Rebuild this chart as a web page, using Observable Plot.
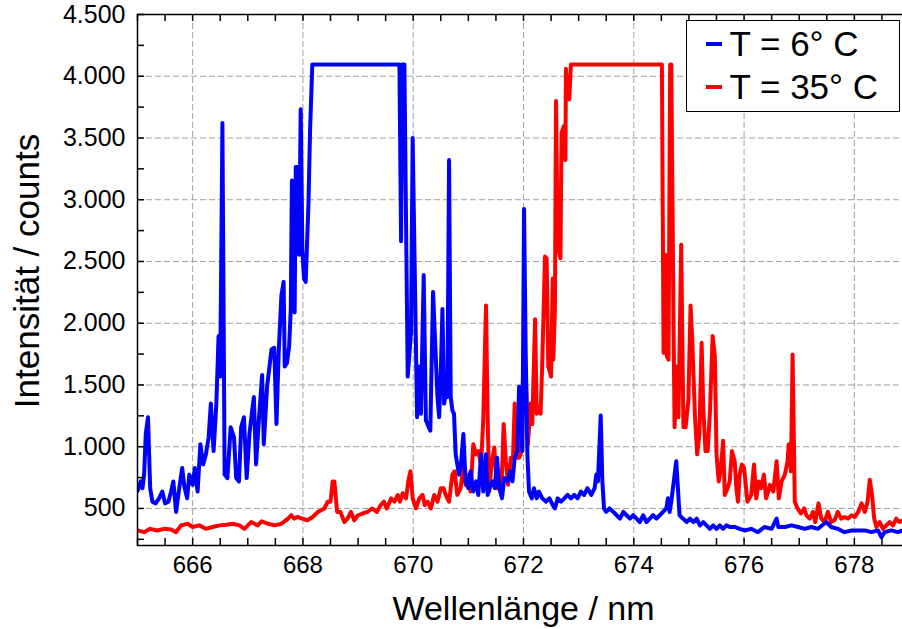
<!DOCTYPE html>
<html>
<head>
<meta charset="utf-8">
<script src="https://cdn.jsdelivr.net/npm/d3@7"></script>
<script src="https://cdn.jsdelivr.net/npm/@observablehq/plot@0.6"></script>
<style>
  html, body { margin: 0; padding: 0; background: #fff; overflow: hidden; }
  #wrap { position: relative; width: 902px; height: 629px; }
  .legend {
    position: absolute; left: 686px; top: 20px; width: 212px; height: 90px;
    border: 1.5px solid #000; background: #fff;
    font-family: "Liberation Sans", Arial, sans-serif; font-size: 35px; color: #000;
  }
  .legend .sw { position: absolute; left: 18.5px; width: 16px; height: 4px; }
  .legend .lbl { position: absolute; left: 42.5px; line-height: 40px; white-space: pre; }
</style>
</head>
<body>
<div id="wrap"></div>
<script>
// Emission spectra of the same diode at two temperatures (12-bit detector, saturates at 4095)
const seriesNames = ["T = 6° C", "T = 35° C"];
const seriesColors = ["#0000ff", "#ff0000"];

const blueNm = [
  665.00, 665.06, 665.09, 665.12, 665.15, 665.19, 665.23, 665.27, 665.33, 665.39,
  665.45, 665.50, 665.56, 665.61, 665.65, 665.70, 665.74, 665.81, 665.85, 665.90,
  665.94, 666.00, 666.04, 666.09, 666.14, 666.19, 666.24, 666.29, 666.33, 666.38,
  666.43, 666.47, 666.50, 666.54, 666.58, 666.63, 666.69, 666.75, 666.79, 666.84,
  666.88, 666.93, 666.98, 667.03, 667.08, 667.11, 667.15, 667.20, 667.26, 667.29,
  667.35, 667.43, 667.48, 667.52, 667.56, 667.61, 667.65, 667.67, 667.71, 667.75,
  667.78, 667.80, 667.83, 667.85, 667.87, 667.90, 667.93, 667.96, 667.99, 668.02,
  668.05, 668.10, 668.13, 668.17, 669.75, 669.78, 669.80, 669.84, 669.90, 669.96,
  669.99, 670.07, 670.11, 670.14, 670.19, 670.23, 670.31, 670.36, 670.44, 670.47,
  670.50, 670.53, 670.56, 670.59, 670.62, 670.65, 670.68, 670.71, 670.74, 670.77,
  670.80, 670.83, 670.86, 670.91, 670.95, 671.00, 671.04, 671.09, 671.14, 671.18,
  671.23, 671.27, 671.32, 671.35, 671.40, 671.44, 671.48, 671.52, 671.56, 671.61,
  671.65, 671.71, 671.76, 671.80, 671.84, 671.89, 671.92, 671.95, 671.98, 672.01,
  672.04, 672.07, 672.10, 672.15, 672.19, 672.24, 672.28, 672.34, 672.41, 672.47,
  672.53, 672.57, 672.62, 672.68, 672.74, 672.80, 672.86, 672.92, 672.98, 673.04,
  673.10, 673.16, 673.23, 673.29, 673.32, 673.35, 673.40, 673.43, 673.46, 673.50,
  673.56, 673.63, 673.69, 673.75, 673.81, 673.87, 673.93, 673.99, 674.05, 674.11,
  674.17, 674.23, 674.29, 674.35, 674.41, 674.47, 674.53, 674.59, 674.62, 674.65,
  674.68, 674.71, 674.74, 674.77, 674.80, 674.83, 674.89, 674.96, 675.02, 675.08,
  675.14, 675.20, 675.26, 675.32, 675.38, 675.44, 675.50, 675.56, 675.62, 675.68,
  675.74, 675.83, 675.92, 676.01, 676.13, 676.25, 676.37, 676.50, 676.59, 676.62,
  676.74, 676.86, 676.98, 677.10, 677.22, 677.34, 677.49, 677.58, 677.70, 677.82,
  677.95, 678.07, 678.19, 678.31, 678.43, 678.49, 678.55, 678.67, 678.79, 678.88,
  679.00
];
const blueCounts = [
  640, 719, 664, 774, 1102, 1239, 664, 555, 541, 582,
  637, 541, 555, 637, 719, 472, 609, 828, 678, 582,
  774, 691, 828, 637, 1020, 856, 938, 1075, 1349, 965,
  1349, 1896, 1568, 3622, 774, 746, 1157, 1075, 746, 719,
  1157, 1239, 746, 1102, 1294, 1403, 856, 1212, 1581, 1020,
  1486, 1787, 1801, 1184, 1760, 2225, 2335, 1650, 1677, 1814,
  2116, 3156, 2116, 2088, 3266, 3266, 2554, 3732, 2581, 2362,
  2335, 2965, 3567, 4095, 4095, 2663, 4095, 4095, 1568, 1924,
  3500, 1239, 1650, 1267, 2390, 1212, 1130, 2253, 1400, 1239,
  1595, 2116, 1349, 1431, 1403, 3321, 1403, 1294, 1267, 938,
  856, 774, 828, 1102, 719, 664, 801, 637, 719, 609,
  938, 637, 938, 609, 691, 719, 664, 911, 664, 582,
  746, 719, 801, 719, 911, 965, 1486, 1349, 965, 2924,
  1760, 938, 637, 582, 664, 582, 637, 582, 555, 582,
  527, 500, 582, 555, 582, 609, 582, 609, 582, 637,
  609, 664, 609, 664, 774, 719, 1253, 719, 500, 472,
  500, 472, 445, 418, 472, 445, 418, 445, 418, 390,
  445, 390, 418, 445, 418, 445, 472, 500, 582, 472,
  555, 664, 774, 883, 664, 445, 418, 390, 418, 390,
  418, 363, 390, 363, 335, 363, 335, 363, 335, 363,
  350, 350, 335, 322, 335, 308, 350, 335, 418, 350,
  350, 363, 350, 335, 350, 335, 390, 350, 335, 308,
  322, 322, 322, 308, 322, 267, 308, 322, 308, 322,
  315
];

const redNm = [
  665.00, 665.12, 665.23, 665.36, 665.48, 665.61, 665.70, 665.79, 665.91, 666.00,
  666.12, 666.24, 666.36, 666.49, 666.61, 666.73, 666.85, 666.94, 667.06, 667.18,
  667.25, 667.37, 667.49, 667.61, 667.73, 667.79, 667.84, 667.90, 667.99, 668.08,
  668.18, 668.27, 668.33, 668.39, 668.45, 668.50, 668.54, 668.57, 668.62, 668.68,
  668.75, 668.81, 668.87, 668.93, 669.00, 669.08, 669.17, 669.26, 669.34, 669.41,
  669.47, 669.52, 669.60, 669.66, 669.72, 669.76, 669.81, 669.87, 669.91, 669.95,
  669.99, 670.05, 670.11, 670.17, 670.21, 670.26, 670.32, 670.38, 670.44, 670.50,
  670.55, 670.59, 670.65, 670.71, 670.75, 670.80, 670.86, 670.91, 670.95, 671.01,
  671.04, 671.09, 671.14, 671.18, 671.23, 671.27, 671.32, 671.35, 671.38, 671.42,
  671.47, 671.52, 671.56, 671.60, 671.64, 671.68, 671.72, 671.77, 671.81, 671.84,
  671.87, 671.92, 671.95, 672.00, 672.04, 672.08, 672.13, 672.16, 672.21, 672.24,
  672.27, 672.31, 672.34, 672.39, 672.42, 672.45, 672.50, 672.53, 672.54, 672.57,
  672.59, 672.62, 672.67, 672.69, 672.73, 672.76, 672.77, 672.80, 672.83, 672.86,
  674.51, 674.54, 674.57, 674.60, 674.63, 674.66, 674.68, 674.72, 674.74, 674.78,
  674.81, 674.86, 674.90, 674.94, 674.99, 675.03, 675.06, 675.11, 675.15, 675.19,
  675.23, 675.26, 675.30, 675.34, 675.38, 675.43, 675.47, 675.50, 675.54, 675.58,
  675.62, 675.65, 675.70, 675.74, 675.78, 675.83, 675.86, 675.89, 675.92, 675.96,
  676.00, 676.06, 676.13, 676.18, 676.22, 676.27, 676.31, 676.36, 676.40, 676.47,
  676.53, 676.59, 676.63, 676.68, 676.74, 676.79, 676.81, 676.85, 676.88, 676.92,
  676.97, 677.03, 677.09, 677.13, 677.19, 677.25, 677.29, 677.35, 677.40, 677.46,
  677.52, 677.58, 677.64, 677.70, 677.76, 677.82, 677.89, 677.95, 678.01, 678.07,
  678.13, 678.19, 678.24, 678.28, 678.32, 678.36, 678.40, 678.46, 678.52, 678.58,
  678.64, 678.70, 678.76, 678.82, 678.88, 679.00
];
const redCounts = [
  322, 308, 335, 322, 335, 330, 308, 363, 376, 350,
  363, 335, 350, 363, 368, 376, 363, 335, 390, 363,
  396, 376, 363, 376, 418, 445, 418, 431, 418, 404,
  431, 472, 486, 500, 555, 555, 719, 719, 472, 472,
  390, 418, 472, 404, 445, 459, 472, 500, 472, 527,
  555, 500, 582, 555, 609, 555, 623, 582, 719, 801,
  582, 500, 582, 609, 527, 555, 500, 609, 555, 664,
  664, 609, 555, 774, 801, 609, 664, 856, 691, 774,
  637, 1020, 938, 965, 856, 1212, 2143, 1239, 637, 856,
  993, 664, 774, 664, 1184, 883, 691, 911, 911, 1349,
  911, 911, 938, 1705, 1622, 1020, 1349, 1184, 2033, 1267,
  1321, 1267, 1677, 2540, 2526, 1650, 1568, 2362, 1705, 2116,
  3800, 2636, 2526, 3540, 3595, 3321, 4060, 3814, 3814, 4095,
  4095, 1760, 2554, 1732, 1705, 4095, 4095, 2033, 1157, 1650,
  1239, 2636, 1157, 1157, 1376, 2143, 1869, 1239, 938, 1102,
  1842, 1321, 965, 965, 1267, 1896, 1732, 938, 719, 828,
  1048, 609, 664, 719, 965, 883, 664, 555, 774, 856,
  828, 555, 609, 856, 582, 719, 664, 774, 582, 691,
  637, 883, 582, 719, 774, 883, 1020, 801, 1746, 555,
  500, 459, 500, 445, 418, 472, 390, 541, 418, 390,
  472, 390, 404, 472, 418, 431, 418, 445, 431, 472,
  541, 472, 555, 732, 609, 418, 350, 390, 335, 363,
  390, 363, 418, 390, 404, 400
];

// Axis ticks and labels
const xTickLabels = [666, 668, 670, 672, 674, 676, 678];
const yTickLabels = [500, 1000, 1500, 2000, 2500, 3000, 3500, 4000, 4500];

const xDomain = [665, 679];
const yDomain = [200, 4500];
const width = 902, height = 629;
const marginLeft = 137, marginRight = -7, marginTop = 14, marginBottom = 84;
const innerW = width - marginLeft - marginRight;
const innerH = height - marginTop - marginBottom;
const tickLen = 7;

const xMinor = d3.range(665, 679.01, 0.5);
const yMinor = d3.range(250, 4500.1, 250);

const blue = blueNm.map((x, i) => ({x, y: blueCounts[i]}));
const red = redNm.map((x, i) => ({x, y: redCounts[i]}));

const deFormat = d3.formatLocale({decimal: ",", thousands: ".", grouping: [3], currency: ["", " €"]}).format(",d");

const font = '"Liberation Sans", Arial, Helvetica, sans-serif';

const chart = Plot.plot({
  width, height, marginLeft, marginRight, marginTop, marginBottom,
  style: {fontFamily: font, background: "#fff", color: "#000"},
  x: {domain: xDomain},
  y: {domain: yDomain},
  marks: [
    // dashed grid
    Plot.ruleX(xTickLabels, {x: d => d, stroke: "#a0a0a0", strokeWidth: 1, strokeDasharray: "6,3"}),
    Plot.ruleY(yTickLabels.filter(d => d < 4500), {y: d => d, stroke: "#a0a0a0", strokeWidth: 1, strokeDasharray: "6,3"}),
    // spectra
    Plot.line(red, {x: "x", y: "y", stroke: seriesColors[1], strokeWidth: 4, clip: true}),
    Plot.line(blue, {x: "x", y: "y", stroke: seriesColors[0], strokeWidth: 4, clip: true}),
    // inward ticks on all four sides
    Plot.tickX(xMinor, {x: d => d, insetTop: innerH - tickLen, stroke: "#000", strokeWidth: 1.5}),
    Plot.tickX(xMinor, {x: d => d, insetBottom: innerH - tickLen, stroke: "#000", strokeWidth: 1.5}),
    Plot.tickY(yMinor, {y: d => d, insetRight: innerW - tickLen, stroke: "#000", strokeWidth: 1.5}),
    Plot.tickY(yMinor, {y: d => d, insetLeft: innerW - tickLen, stroke: "#000", strokeWidth: 1.5}),
    Plot.frame({stroke: "#000", strokeWidth: 1.5}),
    // tick labels
    Plot.axisX(xTickLabels, {tickSize: 0, tickPadding: 10, fontSize: 24, tickFormat: d => String(d), label: null}),
    Plot.axisY(yTickLabels, {tickSize: 0, tickPadding: 12, fontSize: 25, tickFormat: deFormat, label: null}),
    // axis titles
    Plot.text(["Wellenlänge / nm"], {text: d => d, frameAnchor: "bottom", lineAnchor: "bottom", dy: 74, fontSize: 34}),
    Plot.text(["Intensität / counts"], {text: d => d, frameAnchor: "left", textAnchor: "middle", lineAnchor: "bottom", dx: -99, dy: -9, rotate: -90, fontSize: 35})
  ]
});

const wrap = document.getElementById("wrap");
wrap.appendChild(chart);

// legend box in the upper right corner of the plot area
const legend = document.createElement("div");
legend.className = "legend";
seriesNames.forEach((name, i) => {
  const sw = document.createElement("div");
  sw.className = "sw";
  sw.style.background = seriesColors[i];
  sw.style.top = (i === 0 ? 20.5 : 63.5) + "px";
  const lbl = document.createElement("div");
  lbl.className = "lbl";
  lbl.style.top = (i === 0 ? 2.5 : 45.5) + "px";
  lbl.textContent = name;
  legend.appendChild(sw);
  legend.appendChild(lbl);
});
wrap.appendChild(legend);
</script>
</body>
</html>
